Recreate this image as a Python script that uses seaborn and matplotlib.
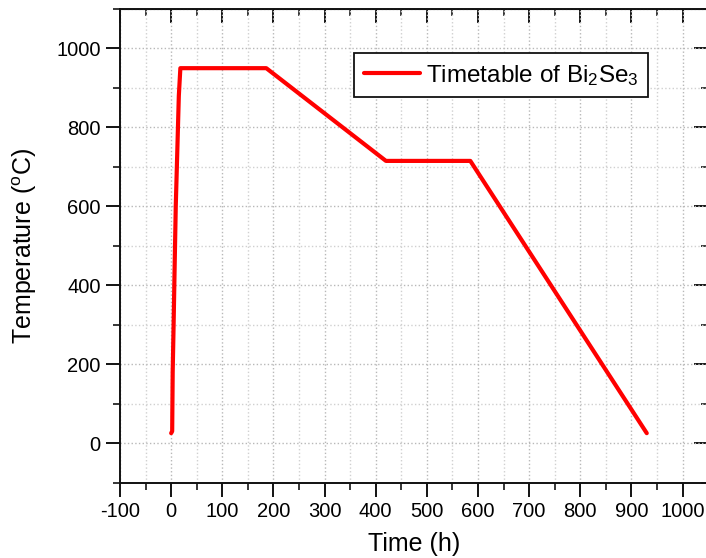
import numpy as np
import pandas as pd
import matplotlib
matplotlib.use('Agg')
import matplotlib.pyplot as plt
from matplotlib.ticker import MultipleLocator
import seaborn as sns

# temperature programme (time in h, temperature in degC)
time_h = [0, 2, 3, 5, 7, 9, 12, 15, 18, 186, 420, 585, 930]
temp_c = [25, 30, 180, 315, 460, 600, 740, 880, 950, 950, 715, 715, 25]
series_label = 'Timetable of Bi$_2$Se$_3$'

sns.set_style('ticks')
plt.rcParams['font.family'] = ['Liberation Sans', 'DejaVu Sans']
plt.rcParams['mathtext.default'] = 'regular'
plt.rcParams['axes.unicode_minus'] = False
plt.rcParams['text.color'] = 'black'
plt.rcParams['axes.labelcolor'] = 'black'
plt.rcParams['xtick.color'] = 'black'
plt.rcParams['ytick.color'] = 'black'

df = pd.DataFrame({'Time': time_h, 'Temp': temp_c})

fig = plt.figure(figsize=(7.06, 5.58), dpi=100)
ax = fig.add_axes([0.170, 0.1353, 0.833, 0.8486])

sns.lineplot(data=df, x='Time', y='Temp', ax=ax, color='#ff0000', lw=3,
             sort=False, estimator=None, label=series_label)

ax.set_xlim(-100, 1050)
ax.set_ylim(-100, 1100)
ax.xaxis.set_minor_locator(MultipleLocator(50))
ax.yaxis.set_minor_locator(MultipleLocator(100))
ax.set_xticks(np.arange(-100, 1001, 100))
ax.set_yticks(np.arange(0, 1001, 200))

ax.grid(which='major', color='#b8b8b8', ls=':', lw=1)
ax.grid(which='minor', color='#d0d0d0', ls=':', lw=1)

for s in ax.spines.values():
    s.set_linewidth(1.4)
    s.set_color('#111111')

ax.tick_params(which='major', direction='out', length=10, width=1.3, labelsize=14.5, pad=4)
ax.tick_params(which='minor', direction='out', length=5, width=1.1)

# inward ticks on top and right side
top = ax.secondary_xaxis('top')
top.set_xticks(np.arange(-100, 1001, 100))
top.xaxis.set_minor_locator(MultipleLocator(50))
top.tick_params(which='major', direction='in', length=10, width=1.3, labeltop=False)
top.tick_params(which='minor', direction='in', length=5, width=1.1)
right = ax.secondary_yaxis('right')
right.set_yticks(np.arange(0, 1001, 200))
right.yaxis.set_minor_locator(MultipleLocator(100))
right.tick_params(which='major', direction='in', length=10, width=1.3, labelright=False)
right.tick_params(which='minor', direction='in', length=5, width=1.1)

ax.set_xlabel('Time (h)', fontsize=18, labelpad=8)
ax.set_ylabel('Temperature ($^{o}$C)', fontsize=18, labelpad=12)

leg = ax.legend(loc='upper right', bbox_to_anchor=(0.898, 0.907), fontsize=17.5,
                frameon=True, fancybox=False, handlelength=2.3, borderpad=0.4,
                handletextpad=0.25, borderaxespad=0)
leg.get_frame().set_edgecolor('#111111')
leg.get_frame().set_linewidth(1.3)
leg.get_frame().set_alpha(1)

fig.savefig('out.png', dpi=100)
